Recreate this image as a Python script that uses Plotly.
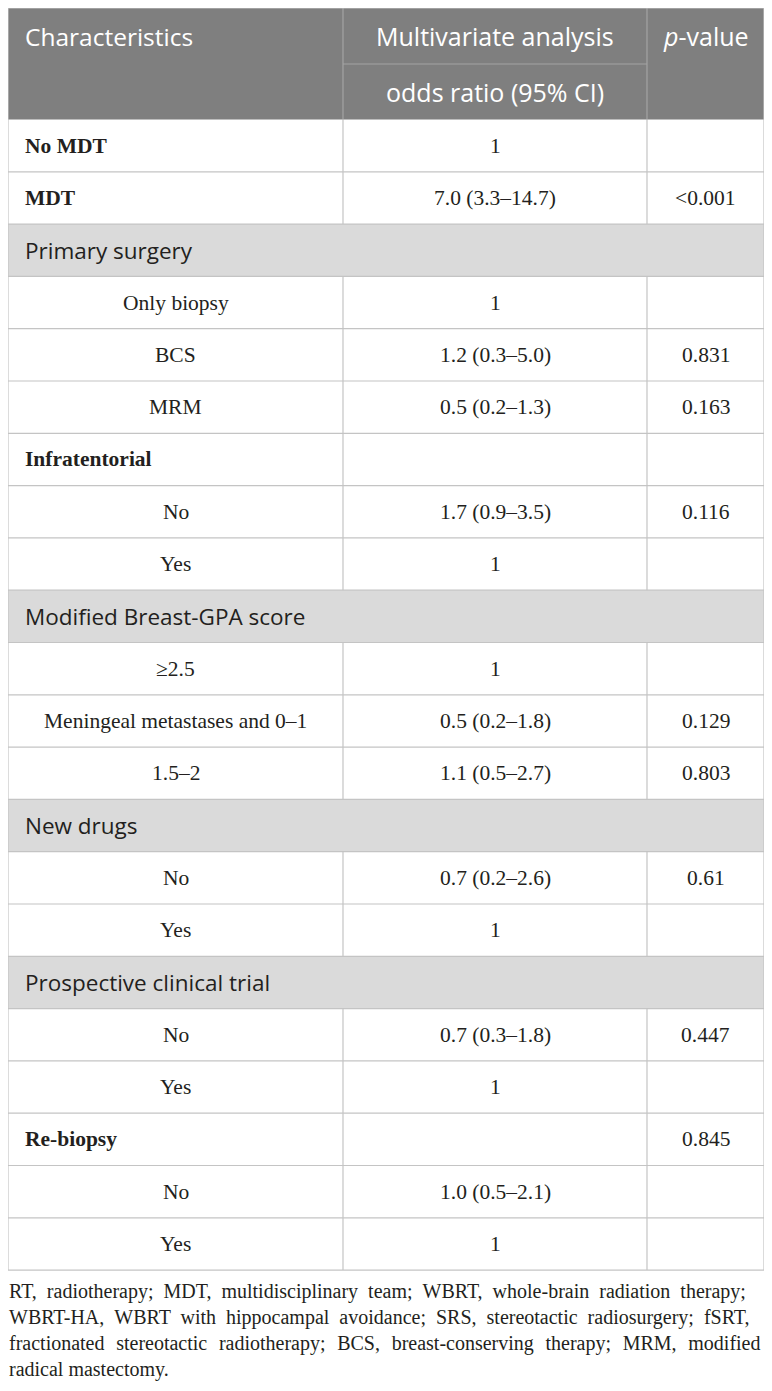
import plotly.graph_objects as go

# table content, one entry per body row
characteristics = ["No MDT", "MDT", "Primary surgery", "Only biopsy", "BCS", "MRM", "Infratentorial", "No", "Yes",
                   "Modified Breast-GPA score", "≥2.5", "Meningeal metastases and 0–1", "1.5–2", "New drugs", "No",
                   "Yes", "Prospective clinical trial", "No", "Yes", "Re-biopsy", "No", "Yes"]
odds_ratio = ["1", "7.0 (3.3–14.7)", "", "1", "1.2 (0.3–5.0)", "0.5 (0.2–1.3)", "", "1.7 (0.9–3.5)", "1", "", "1",
              "0.5 (0.2–1.8)", "1.1 (0.5–2.7)", "", "0.7 (0.2–2.6)", "1", "", "0.7 (0.3–1.8)", "1", "",
              "1.0 (0.5–2.1)", "1"]
p_values = ["", "<0.001", "", "", "0.831", "0.163", "", "0.116", "", "", "", "0.129", "0.803", "", "0.61", "", "",
            "0.447", "", "0.845", "", ""]
row_kinds = ["bold", "bold", "section", "sub", "sub", "sub", "bold", "sub", "sub", "section", "sub", "sub", "sub",
             "section", "sub", "sub", "section", "sub", "sub", "bold", "sub", "sub"]
header_top = ["Characteristics", "Multivariate analysis", "<i>p</i>-value"]
header_bottom = ["", "odds ratio (95% CI)", ""]
footnote_lines = [
    "RT, radiotherapy; MDT, multidisciplinary team; WBRT, whole-brain radiation therapy;",
    "WBRT-HA, WBRT with hippocampal avoidance; SRS, stereotactic radiosurgery; fSRT,",
    "fractionated stereotactic radiotherapy; BCS, breast-conserving therapy; MRM, modified",
    "radical mastectomy.",
]
# extra space glyph added to every word gap, to fake the justified paragraph
footnote_fill = ["\u2005", "\u2005", "\u2004", ""]

# layout, in window pixels (page body has an 8px margin)
W, H = 772, 1391
BODY_MARGIN = 8
COL_EDGES = [8, 343, 647, 764]
HEAD_TOP, HEAD_MID, HEAD_BOTTOM = 8, 64, 119.5
ROW_H = 52.3
PAD = 16
FOOT_TOP, FOOT_STEP = 1291, 26.3

HEAD_BG = "#7f7f7f"
HEAD_LINE = "#a3a3a3"
SECTION_BG = "#dadada"
GRID = "#c4c4c4"
TEXT = "#231f20"
SANS = "Open Sans"
SERIF = "Liberation Serif"

fig = go.Figure()
shapes = []
annotations = []


def add_text(x, y, text, family, size, color=TEXT, anchor="center"):
    annotations.append(dict(x=x, y=y, xref="x", yref="y", text=text, showarrow=False, xanchor=anchor,
                            yanchor="middle", borderpad=0, font=dict(family=family, size=size, color=color)))


def line(x0, y0, x1, y1, color=GRID):
    shapes.append(dict(type="line", xref="x", yref="y", x0=x0, y0=y0, x1=x1, y1=y1,
                       line=dict(color=color, width=1.2), layer="above"))


left, right = COL_EDGES[0], COL_EDGES[-1]
centers = [(COL_EDGES[i] + COL_EDGES[i + 1]) / 2 for i in range(3)]

# header block
shapes.append(dict(type="rect", xref="x", yref="y", x0=left, y0=HEAD_TOP, x1=right, y1=HEAD_BOTTOM,
                   fillcolor=HEAD_BG, line=dict(width=0), layer="below"))
line(COL_EDGES[1], HEAD_TOP, COL_EDGES[1], HEAD_BOTTOM, HEAD_LINE)
line(COL_EDGES[2], HEAD_TOP, COL_EDGES[2], HEAD_BOTTOM, HEAD_LINE)
line(COL_EDGES[1], HEAD_MID, COL_EDGES[2], HEAD_MID, HEAD_LINE)
head_y_top = (HEAD_TOP + HEAD_MID) / 2
head_y_bottom = (HEAD_MID + HEAD_BOTTOM) / 2
add_text(left + PAD, head_y_top, header_top[0], SANS, 24.5, "white", "left")
add_text(centers[1], head_y_top, header_top[1], SANS, 25, "white")
add_text(centers[2], head_y_top, header_top[2], SANS, 25, "white")
add_text(centers[1], head_y_bottom, header_bottom[1], SANS, 25, "white")

# body rows
for i, (label, odds, p, kind) in enumerate(zip(characteristics, odds_ratio, p_values, row_kinds)):
    y0 = HEAD_BOTTOM + i * ROW_H
    y1 = y0 + ROW_H
    ym = (y0 + y1) / 2
    if kind == "section":
        shapes.append(dict(type="rect", xref="x", yref="y", x0=left, y0=y0, x1=right, y1=y1,
                           fillcolor=SECTION_BG, line=dict(width=0), layer="below"))
        add_text(left + PAD, ym, label, SANS, 22.5, TEXT, "left")
    else:
        line(COL_EDGES[1], y0, COL_EDGES[1], y1)
        line(COL_EDGES[2], y0, COL_EDGES[2], y1)
        if kind == "bold":
            add_text(left + PAD, ym, "<b>" + label + "</b>", SERIF, 21.5, TEXT, "left")
        else:
            add_text(centers[0], ym, label, SERIF, 21.5)
    if odds:
        add_text(centers[1], ym, odds, SERIF, 21.5)
    if p:
        add_text(centers[2], ym, p.replace("<", "&lt;"), SERIF, 21.5)
    line(left, y1, right, y1)

body_bottom = HEAD_BOTTOM + len(characteristics) * ROW_H
line(left, HEAD_TOP, right, HEAD_TOP)
line(left, HEAD_TOP, left, body_bottom)
line(right, HEAD_TOP, right, body_bottom)

# footnote
for k, (text, fill) in enumerate(zip(footnote_lines, footnote_fill)):
    add_text(left, FOOT_TOP + k * FOOT_STEP, text.replace(" ", " " + fill), SERIF, 20, TEXT, "left")

fig.update_layout(
    width=W - BODY_MARGIN, height=H - BODY_MARGIN,
    margin=dict(l=0, r=0, t=0, b=0),
    paper_bgcolor="white", plot_bgcolor="white",
    xaxis=dict(range=[BODY_MARGIN, W], visible=False, fixedrange=True),
    yaxis=dict(range=[H, BODY_MARGIN], visible=False, fixedrange=True),
    shapes=shapes, annotations=annotations,
    showlegend=False,
)

fig.write_html("out.html")
